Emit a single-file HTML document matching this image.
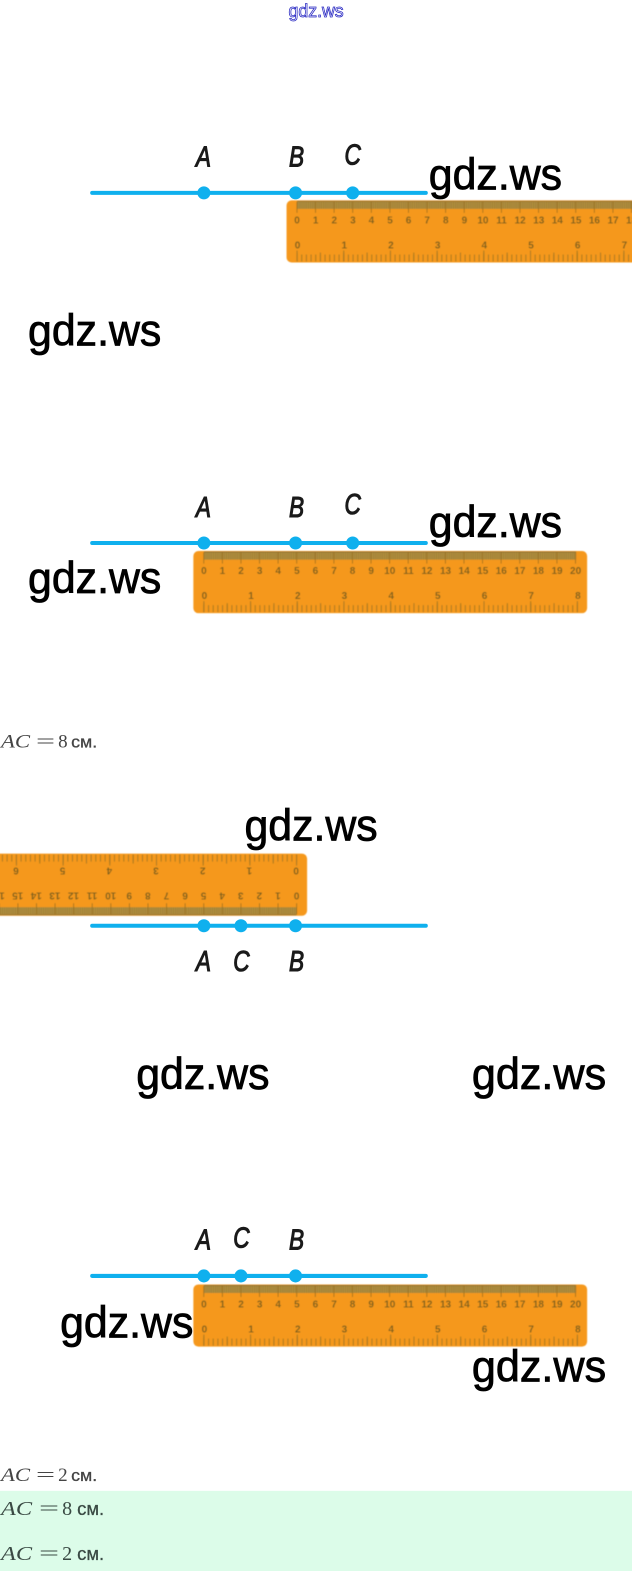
<!DOCTYPE html>
<html><head><meta charset="utf-8"><style>
html,body{margin:0;padding:0;background:#fff;width:632px;height:1571px;overflow:hidden}
svg{display:block}
.n{font:bold 10px "Liberation Sans",sans-serif;fill:#80621c;text-anchor:middle}
.l{font:italic 29px "Liberation Sans",sans-serif;fill:#1a1a1a;stroke:#1a1a1a;stroke-width:1.1;text-anchor:middle}
.w{font:44px "Liberation Sans",sans-serif;fill:#000;stroke:#000;stroke-width:.8}
.m{font:19px "Liberation Serif",serif;fill:#444}
.mi{font:italic 19px "Liberation Serif",serif;fill:#444}
.c{font:17px "Liberation Sans",Arial,sans-serif;fill:#444;stroke:#444;stroke-width:.3}
.m2{font:20px "Liberation Serif",serif;fill:#3a4a44}
.mi2{font:italic 20px "Liberation Serif",serif;fill:#3a4a44}
.c2{font:18px "Liberation Sans",Arial,sans-serif;fill:#3a4a44;stroke:#3a4a44;stroke-width:.3}
.line{stroke:#0fb0ee;stroke-width:4;stroke-linecap:round}
.dot{fill:#0fb0ee}
</style></head><body>
<svg width="632" height="1571" viewBox="0 0 630.8 1568" preserveAspectRatio="none" xmlns="http://www.w3.org/2000/svg">
<defs><filter id="b" x="-2%" y="-5%" width="104%" height="110%"><feGaussianBlur stdDeviation="0.45"/></filter></defs>
<rect x="0" y="1488" width="632" height="84" fill="#dcfce9"/>
<text x="288" y="17" textLength="55" lengthAdjust="spacingAndGlyphs" style="font:18px 'Liberation Sans',sans-serif;fill:#fff;stroke:#2e2ec4;stroke-width:.8">gdz.ws</text>

<!-- Ruler 1 -->
<g transform="translate(93,-350)" filter="url(#b)">
<rect x="193" y="550" width="393" height="62" rx="5" fill="#f5981d"/>
<line x1="203.5" y1="555" x2="575" y2="555" stroke="#b89440" stroke-width="7"/>
<line x1="203.5" y1="555" x2="575" y2="555" stroke="#8f7330" stroke-width="7" stroke-dasharray="0.7 1.155"/>
<line x1="203.5" y1="551" x2="575" y2="551" stroke="#8f7330" stroke-width="1"/>
<line x1="203" y1="557" x2="575" y2="557" stroke="#9a6f20" stroke-width="11" stroke-dasharray="0.8 17.75"/>
<line x1="203" y1="605.5" x2="577" y2="605.5" stroke="#a87a22" stroke-width="11" stroke-dasharray="1 45.6"/>
<line x1="203" y1="606.5" x2="577" y2="606.5" stroke="#a87a22" stroke-width="9" stroke-dasharray="1 22.3"/>
<line x1="203" y1="607.5" x2="577" y2="607.5" stroke="#a87a22" stroke-width="7" stroke-dasharray="1 3.66"/>
<text class="n" x="203.5" y="573">0</text><text class="n" x="222" y="573">1</text><text class="n" x="240.6" y="573">2</text><text class="n" x="259.2" y="573">3</text><text class="n" x="277.7" y="573">4</text><text class="n" x="296.3" y="573">5</text><text class="n" x="314.8" y="573">6</text><text class="n" x="333.4" y="573">7</text><text class="n" x="351.9" y="573">8</text><text class="n" x="370.5" y="573">9</text><text class="n" x="389" y="573">10</text><text class="n" x="407.6" y="573">11</text><text class="n" x="426.1" y="573">12</text><text class="n" x="444.7" y="573">13</text><text class="n" x="463.2" y="573">14</text><text class="n" x="481.8" y="573">15</text><text class="n" x="500.3" y="573">16</text><text class="n" x="518.9" y="573">17</text><text class="n" x="537.4" y="573">18</text><text class="n" x="556" y="573">19</text><text class="n" x="574.5" y="573">20</text>
<text class="n" x="204" y="598">0</text><text class="n" x="250.6" y="598">1</text><text class="n" x="297.2" y="598">2</text><text class="n" x="343.8" y="598">3</text><text class="n" x="390.4" y="598">4</text><text class="n" x="437" y="598">5</text><text class="n" x="483.6" y="598">6</text><text class="n" x="530.2" y="598">7</text><text class="n" x="576.8" y="598">8</text>
</g>

<!-- Ruler 2 -->
<g filter="url(#b)">
<rect x="193" y="550" width="393" height="62" rx="5" fill="#f5981d"/>
<line x1="203.5" y1="555" x2="575" y2="555" stroke="#b89440" stroke-width="7"/>
<line x1="203.5" y1="555" x2="575" y2="555" stroke="#8f7330" stroke-width="7" stroke-dasharray="0.7 1.155"/>
<line x1="203.5" y1="551" x2="575" y2="551" stroke="#8f7330" stroke-width="1"/>
<line x1="203" y1="557" x2="575" y2="557" stroke="#9a6f20" stroke-width="11" stroke-dasharray="0.8 17.75"/>
<line x1="203" y1="605.5" x2="577" y2="605.5" stroke="#a87a22" stroke-width="11" stroke-dasharray="1 45.6"/>
<line x1="203" y1="606.5" x2="577" y2="606.5" stroke="#a87a22" stroke-width="9" stroke-dasharray="1 22.3"/>
<line x1="203" y1="607.5" x2="577" y2="607.5" stroke="#a87a22" stroke-width="7" stroke-dasharray="1 3.66"/>
<text class="n" x="203.5" y="573">0</text><text class="n" x="222" y="573">1</text><text class="n" x="240.6" y="573">2</text><text class="n" x="259.2" y="573">3</text><text class="n" x="277.7" y="573">4</text><text class="n" x="296.3" y="573">5</text><text class="n" x="314.8" y="573">6</text><text class="n" x="333.4" y="573">7</text><text class="n" x="351.9" y="573">8</text><text class="n" x="370.5" y="573">9</text><text class="n" x="389" y="573">10</text><text class="n" x="407.6" y="573">11</text><text class="n" x="426.1" y="573">12</text><text class="n" x="444.7" y="573">13</text><text class="n" x="463.2" y="573">14</text><text class="n" x="481.8" y="573">15</text><text class="n" x="500.3" y="573">16</text><text class="n" x="518.9" y="573">17</text><text class="n" x="537.4" y="573">18</text><text class="n" x="556" y="573">19</text><text class="n" x="574.5" y="573">20</text>
<text class="n" x="204" y="598">0</text><text class="n" x="250.6" y="598">1</text><text class="n" x="297.2" y="598">2</text><text class="n" x="343.8" y="598">3</text><text class="n" x="390.4" y="598">4</text><text class="n" x="437" y="598">5</text><text class="n" x="483.6" y="598">6</text><text class="n" x="530.2" y="598">7</text><text class="n" x="576.8" y="598">8</text>
</g>

<!-- Ruler 3 (rotated) -->
<g transform="matrix(-1 0 0 -1 499.5 1464)" filter="url(#b)">
<rect x="193" y="550" width="393" height="62" rx="5" fill="#f5981d"/>
<line x1="203.5" y1="555" x2="575" y2="555" stroke="#b89440" stroke-width="7"/>
<line x1="203.5" y1="555" x2="575" y2="555" stroke="#8f7330" stroke-width="7" stroke-dasharray="0.7 1.155"/>
<line x1="203.5" y1="551" x2="575" y2="551" stroke="#8f7330" stroke-width="1"/>
<line x1="203" y1="557" x2="575" y2="557" stroke="#9a6f20" stroke-width="11" stroke-dasharray="0.8 17.75"/>
<line x1="203" y1="605.5" x2="577" y2="605.5" stroke="#a87a22" stroke-width="11" stroke-dasharray="1 45.6"/>
<line x1="203" y1="606.5" x2="577" y2="606.5" stroke="#a87a22" stroke-width="9" stroke-dasharray="1 22.3"/>
<line x1="203" y1="607.5" x2="577" y2="607.5" stroke="#a87a22" stroke-width="7" stroke-dasharray="1 3.66"/>
<text class="n" x="203.5" y="573">0</text><text class="n" x="222" y="573">1</text><text class="n" x="240.6" y="573">2</text><text class="n" x="259.2" y="573">3</text><text class="n" x="277.7" y="573">4</text><text class="n" x="296.3" y="573">5</text><text class="n" x="314.8" y="573">6</text><text class="n" x="333.4" y="573">7</text><text class="n" x="351.9" y="573">8</text><text class="n" x="370.5" y="573">9</text><text class="n" x="389" y="573">10</text><text class="n" x="407.6" y="573">11</text><text class="n" x="426.1" y="573">12</text><text class="n" x="444.7" y="573">13</text><text class="n" x="463.2" y="573">14</text><text class="n" x="481.8" y="573">15</text><text class="n" x="500.3" y="573">16</text><text class="n" x="518.9" y="573">17</text><text class="n" x="537.4" y="573">18</text><text class="n" x="556" y="573">19</text><text class="n" x="574.5" y="573">20</text>
<text class="n" x="204" y="598">0</text><text class="n" x="250.6" y="598">1</text><text class="n" x="297.2" y="598">2</text><text class="n" x="343.8" y="598">3</text><text class="n" x="390.4" y="598">4</text><text class="n" x="437" y="598">5</text><text class="n" x="483.6" y="598">6</text><text class="n" x="530.2" y="598">7</text><text class="n" x="576.8" y="598">8</text>
</g>

<!-- Ruler 4 -->
<g transform="translate(0,732)" filter="url(#b)">
<rect x="193" y="550" width="393" height="62" rx="5" fill="#f5981d"/>
<line x1="203.5" y1="555" x2="575" y2="555" stroke="#b89440" stroke-width="7"/>
<line x1="203.5" y1="555" x2="575" y2="555" stroke="#8f7330" stroke-width="7" stroke-dasharray="0.7 1.155"/>
<line x1="203.5" y1="551" x2="575" y2="551" stroke="#8f7330" stroke-width="1"/>
<line x1="203" y1="557" x2="575" y2="557" stroke="#9a6f20" stroke-width="11" stroke-dasharray="0.8 17.75"/>
<line x1="203" y1="605.5" x2="577" y2="605.5" stroke="#a87a22" stroke-width="11" stroke-dasharray="1 45.6"/>
<line x1="203" y1="606.5" x2="577" y2="606.5" stroke="#a87a22" stroke-width="9" stroke-dasharray="1 22.3"/>
<line x1="203" y1="607.5" x2="577" y2="607.5" stroke="#a87a22" stroke-width="7" stroke-dasharray="1 3.66"/>
<text class="n" x="203.5" y="573">0</text><text class="n" x="222" y="573">1</text><text class="n" x="240.6" y="573">2</text><text class="n" x="259.2" y="573">3</text><text class="n" x="277.7" y="573">4</text><text class="n" x="296.3" y="573">5</text><text class="n" x="314.8" y="573">6</text><text class="n" x="333.4" y="573">7</text><text class="n" x="351.9" y="573">8</text><text class="n" x="370.5" y="573">9</text><text class="n" x="389" y="573">10</text><text class="n" x="407.6" y="573">11</text><text class="n" x="426.1" y="573">12</text><text class="n" x="444.7" y="573">13</text><text class="n" x="463.2" y="573">14</text><text class="n" x="481.8" y="573">15</text><text class="n" x="500.3" y="573">16</text><text class="n" x="518.9" y="573">17</text><text class="n" x="537.4" y="573">18</text><text class="n" x="556" y="573">19</text><text class="n" x="574.5" y="573">20</text>
<text class="n" x="204" y="598">0</text><text class="n" x="250.6" y="598">1</text><text class="n" x="297.2" y="598">2</text><text class="n" x="343.8" y="598">3</text><text class="n" x="390.4" y="598">4</text><text class="n" x="437" y="598">5</text><text class="n" x="483.6" y="598">6</text><text class="n" x="530.2" y="598">7</text><text class="n" x="576.8" y="598">8</text>
</g>

<!-- Lines and dots -->
<line class="line" x1="92" y1="192.500" x2="425" y2="192.500"/>
<circle class="dot" cx="203.500" cy="192.500" r="6.500"/><circle class="dot" cx="295" cy="192.500" r="6.500"/><circle class="dot" cx="352" cy="192.500" r="6.500"/>
<line class="line" x1="92" y1="542" x2="425" y2="542"/>
<circle class="dot" cx="203.500" cy="542" r="6.500"/><circle class="dot" cx="295" cy="542" r="6.500"/><circle class="dot" cx="352" cy="542" r="6.500"/>
<line class="line" x1="92" y1="924" x2="425" y2="924"/>
<circle class="dot" cx="203.500" cy="924" r="6.500"/><circle class="dot" cx="240.500" cy="924" r="6.500"/><circle class="dot" cx="295" cy="924" r="6.500"/>
<line class="line" x1="92" y1="1273.500" x2="425" y2="1273.500"/>
<circle class="dot" cx="203.500" cy="1273.500" r="6.500"/><circle class="dot" cx="240.500" cy="1273.500" r="6.500"/><circle class="dot" cx="295" cy="1273.500" r="6.500"/>

<!-- Point labels -->
<text class="l" transform="translate(203,166) scale(.78,1)">A</text>
<text class="l" transform="translate(296,166) scale(.78,1)">B</text>
<text class="l" transform="translate(352,164) scale(.78,1)">C</text>
<text class="l" transform="translate(203,516) scale(.78,1)">A</text>
<text class="l" transform="translate(296,516) scale(.78,1)">B</text>
<text class="l" transform="translate(352,513) scale(.78,1)">C</text>
<text class="l" transform="translate(203,969) scale(.78,1)">A</text>
<text class="l" transform="translate(241,969) scale(.78,1)">C</text>
<text class="l" transform="translate(296,969) scale(.78,1)">B</text>
<text class="l" transform="translate(203,1247) scale(.78,1)">A</text>
<text class="l" transform="translate(241,1245) scale(.78,1)">C</text>
<text class="l" transform="translate(296,1247) scale(.78,1)">B</text>

<!-- Watermarks -->
<text class="w" x="428" y="189" textLength="133" lengthAdjust="spacingAndGlyphs">gdz.ws</text>
<text class="w" x="28" y="345" textLength="133" lengthAdjust="spacingAndGlyphs">gdz.ws</text>
<text class="w" x="428" y="536" textLength="133" lengthAdjust="spacingAndGlyphs">gdz.ws</text>
<text class="w" x="28" y="592" textLength="133" lengthAdjust="spacingAndGlyphs">gdz.ws</text>
<text class="w" x="244" y="839" textLength="133" lengthAdjust="spacingAndGlyphs">gdz.ws</text>
<text class="w" x="136" y="1087" textLength="133" lengthAdjust="spacingAndGlyphs">gdz.ws</text>
<text class="w" x="471" y="1087" textLength="134" lengthAdjust="spacingAndGlyphs">gdz.ws</text>
<text class="w" x="60" y="1335" textLength="133" lengthAdjust="spacingAndGlyphs">gdz.ws</text>
<text class="w" x="471" y="1379" textLength="134" lengthAdjust="spacingAndGlyphs">gdz.ws</text>

<!-- Math text -->
<text class="mi" x="1" y="746" textLength="29" lengthAdjust="spacingAndGlyphs">AC</text><text class="m" x="36" y="746" textLength="19" lengthAdjust="spacingAndGlyphs">=</text><text class="m" x="58" y="746">8</text><text class="c" x="71" y="746" textLength="26" lengthAdjust="spacingAndGlyphs">см.</text>
<text class="mi" x="1" y="1478" textLength="29" lengthAdjust="spacingAndGlyphs">AC</text><text class="m" x="36" y="1478" textLength="19" lengthAdjust="spacingAndGlyphs">=</text><text class="m" x="58" y="1478">2</text><text class="c" x="71" y="1478" textLength="26" lengthAdjust="spacingAndGlyphs">см.</text>
<text class="mi2" x="1" y="1512" textLength="31" lengthAdjust="spacingAndGlyphs">AC</text><text class="m2" x="39" y="1512" textLength="20" lengthAdjust="spacingAndGlyphs">=</text><text class="m2" x="62" y="1512">8</text><text class="c2" x="77" y="1512" textLength="27" lengthAdjust="spacingAndGlyphs">см.</text>
<text class="mi2" x="1" y="1557" textLength="31" lengthAdjust="spacingAndGlyphs">AC</text><text class="m2" x="39" y="1557" textLength="20" lengthAdjust="spacingAndGlyphs">=</text><text class="m2" x="62" y="1557">2</text><text class="c2" x="77" y="1557" textLength="27" lengthAdjust="spacingAndGlyphs">см.</text>
</svg>
</body></html>
